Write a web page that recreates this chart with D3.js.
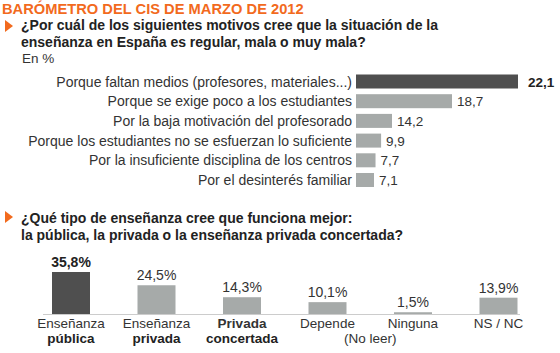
<!DOCTYPE html>
<html><head><meta charset="utf-8">
<script src="https://cdn.jsdelivr.net/npm/d3@7"></script>
<style>
html,body{margin:0;padding:0;background:#fff;}
svg{display:block;font-family:"Liberation Sans",Arial,sans-serif;}
</style></head>
<body>
<svg id="c" width="560" height="353"></svg>
<script>
// ---- data ----
const motivos = [
  "Porque faltan medios (profesores, materiales...)",
  "Porque se exige poco a los estudiantes",
  "Por la baja motivación del profesorado",
  "Porque los estudiantes no se esfuerzan lo suficiente",
  "Por la insuficiente disciplina de los centros",
  "Por el desinterés familiar"
];
const motivosValues = [22.1, 18.7, 14.2, 9.9, 7.7, 7.1];
const motivosLabels = ["22,1", "18,7", "14,2", "9,9", "7,7", "7,1"];

const tipos = ["publica", "privada", "concertada", "depende", "ninguna", "nsnc"];
const tiposValues = [35.8, 24.5, 14.3, 10.1, 1.5, 13.9];
const tiposLabels = ["35,8%", "24,5%", "14,3%", "10,1%", "1,5%", "13,9%"];
const tiposLine1 = ["Enseñanza", "Enseñanza", "Privada", "Depende", "Ninguna", "NS / NC"];
const tiposLine2 = ["pública", "privada", "concertada", "", "", ""];

const DARK = "#4f4f4f", LIGHT = "#a6aaa9", ORANGE = "#f26a1d", TXT = "#333", Q = "#222";

const svg = d3.select("#c");

// ---- header ----
svg.append("text").attr("x", 2).attr("y", 14).attr("fill", ORANGE)
  .attr("font-weight", "bold").attr("font-size", 14.7)
  .text("BARÓMETRO DEL CIS DE MARZO DE 2012");

function marker(y) {
  svg.append("path").attr("d", `M5,${y} L13,${y+6} L5,${y+12} Z`).attr("fill", ORANGE);
}
function question(lines, y0) {
  lines.forEach((t, i) => svg.append("text").attr("x", 21).attr("y", y0 + i * 17)
    .attr("fill", Q).attr("font-weight", "bold").attr("font-size", 14).text(t));
}
marker(20);
question(["¿Por cuál de los siguientes motivos cree que la situación de la",
          "enseñanza en España es regular, mala o muy mala?"], 30);
svg.append("text").attr("x", 22).attr("y", 63).attr("fill", TXT).attr("font-size", 13.5).text("En %");

// ---- chart 1: horizontal bars ----
const x0 = 356;
const xs = d3.scaleLinear().domain([0, 14.2, 18.7, 22.1]).range([0, 36, 96, 162]);
const ys = d3.scalePoint().domain(motivos).range([81.5, 180]);
const bh = 14;
const g1 = svg.append("g");
motivos.forEach((m, i) => {
  const cy = ys(m), w = xs(motivosValues[i]);
  g1.append("rect").attr("x", x0).attr("y", cy - bh / 2).attr("width", w).attr("height", bh)
    .attr("fill", i === 0 ? DARK : LIGHT);
  g1.append("text").attr("x", x0 - 4).attr("y", cy + 5).attr("text-anchor", "end")
    .attr("fill", TXT).attr("font-size", 14).text(m);
  g1.append("text").attr("x", x0 + w + (i === 0 ? 10 : 5)).attr("y", cy + 5)
    .attr("fill", i === 0 ? Q : TXT).attr("font-weight", i === 0 ? "bold" : "normal")
    .attr("font-size", 13.5).text(motivosLabels[i]);
});

// ---- second question ----
marker(211);
question(["¿Qué tipo de enseñanza cree que funciona mejor:",
          "la pública, la privada o la enseñanza privada concertada?"], 223);

// ---- chart 2: vertical bars ----
const base = 314;
const xp = d3.scalePoint().domain(tipos).range([71, 498.5]);
const yv = d3.scaleLinear().domain([0, 35.8]).range([base, 272]);
const bw = 38;
const g2 = svg.append("g");
g2.append("line").attr("x1", 43).attr("x2", 520).attr("y1", base + 0.5).attr("y2", base + 0.5)
  .attr("stroke", "#cccccc").attr("stroke-width", 1);
tipos.forEach((t, i) => {
  const cx = xp(t), v = tiposValues[i];
  g2.append("rect").attr("x", cx - bw / 2).attr("y", yv(v)).attr("width", bw).attr("height", base - yv(v))
    .attr("fill", i === 0 ? DARK : LIGHT);
  g2.append("text").attr("x", cx).attr("y", yv(v) - 5).attr("text-anchor", "middle")
    .attr("fill", i === 0 ? Q : TXT).attr("font-weight", i === 0 ? "bold" : "normal")
    .attr("font-size", 14).text(tiposLabels[i]);
  g2.append("text").attr("x", cx).attr("y", 328).attr("text-anchor", "middle")
    .attr("fill", TXT).attr("font-weight", i === 2 ? "bold" : "normal")
    .attr("font-size", 13.5).text(tiposLine1[i]);
  if (tiposLine2[i]) {
    g2.append("text").attr("x", cx).attr("y", 343).attr("text-anchor", "middle")
      .attr("fill", Q).attr("font-weight", "bold")
      .attr("font-size", 13.5).text(tiposLine2[i]);
  }
});
g2.append("text").attr("x", (xp("depende") + xp("ninguna")) / 2).attr("y", 343)
  .attr("text-anchor", "middle").attr("fill", TXT).attr("font-size", 13.5).text("(No leer)");
</script>
</body></html>
